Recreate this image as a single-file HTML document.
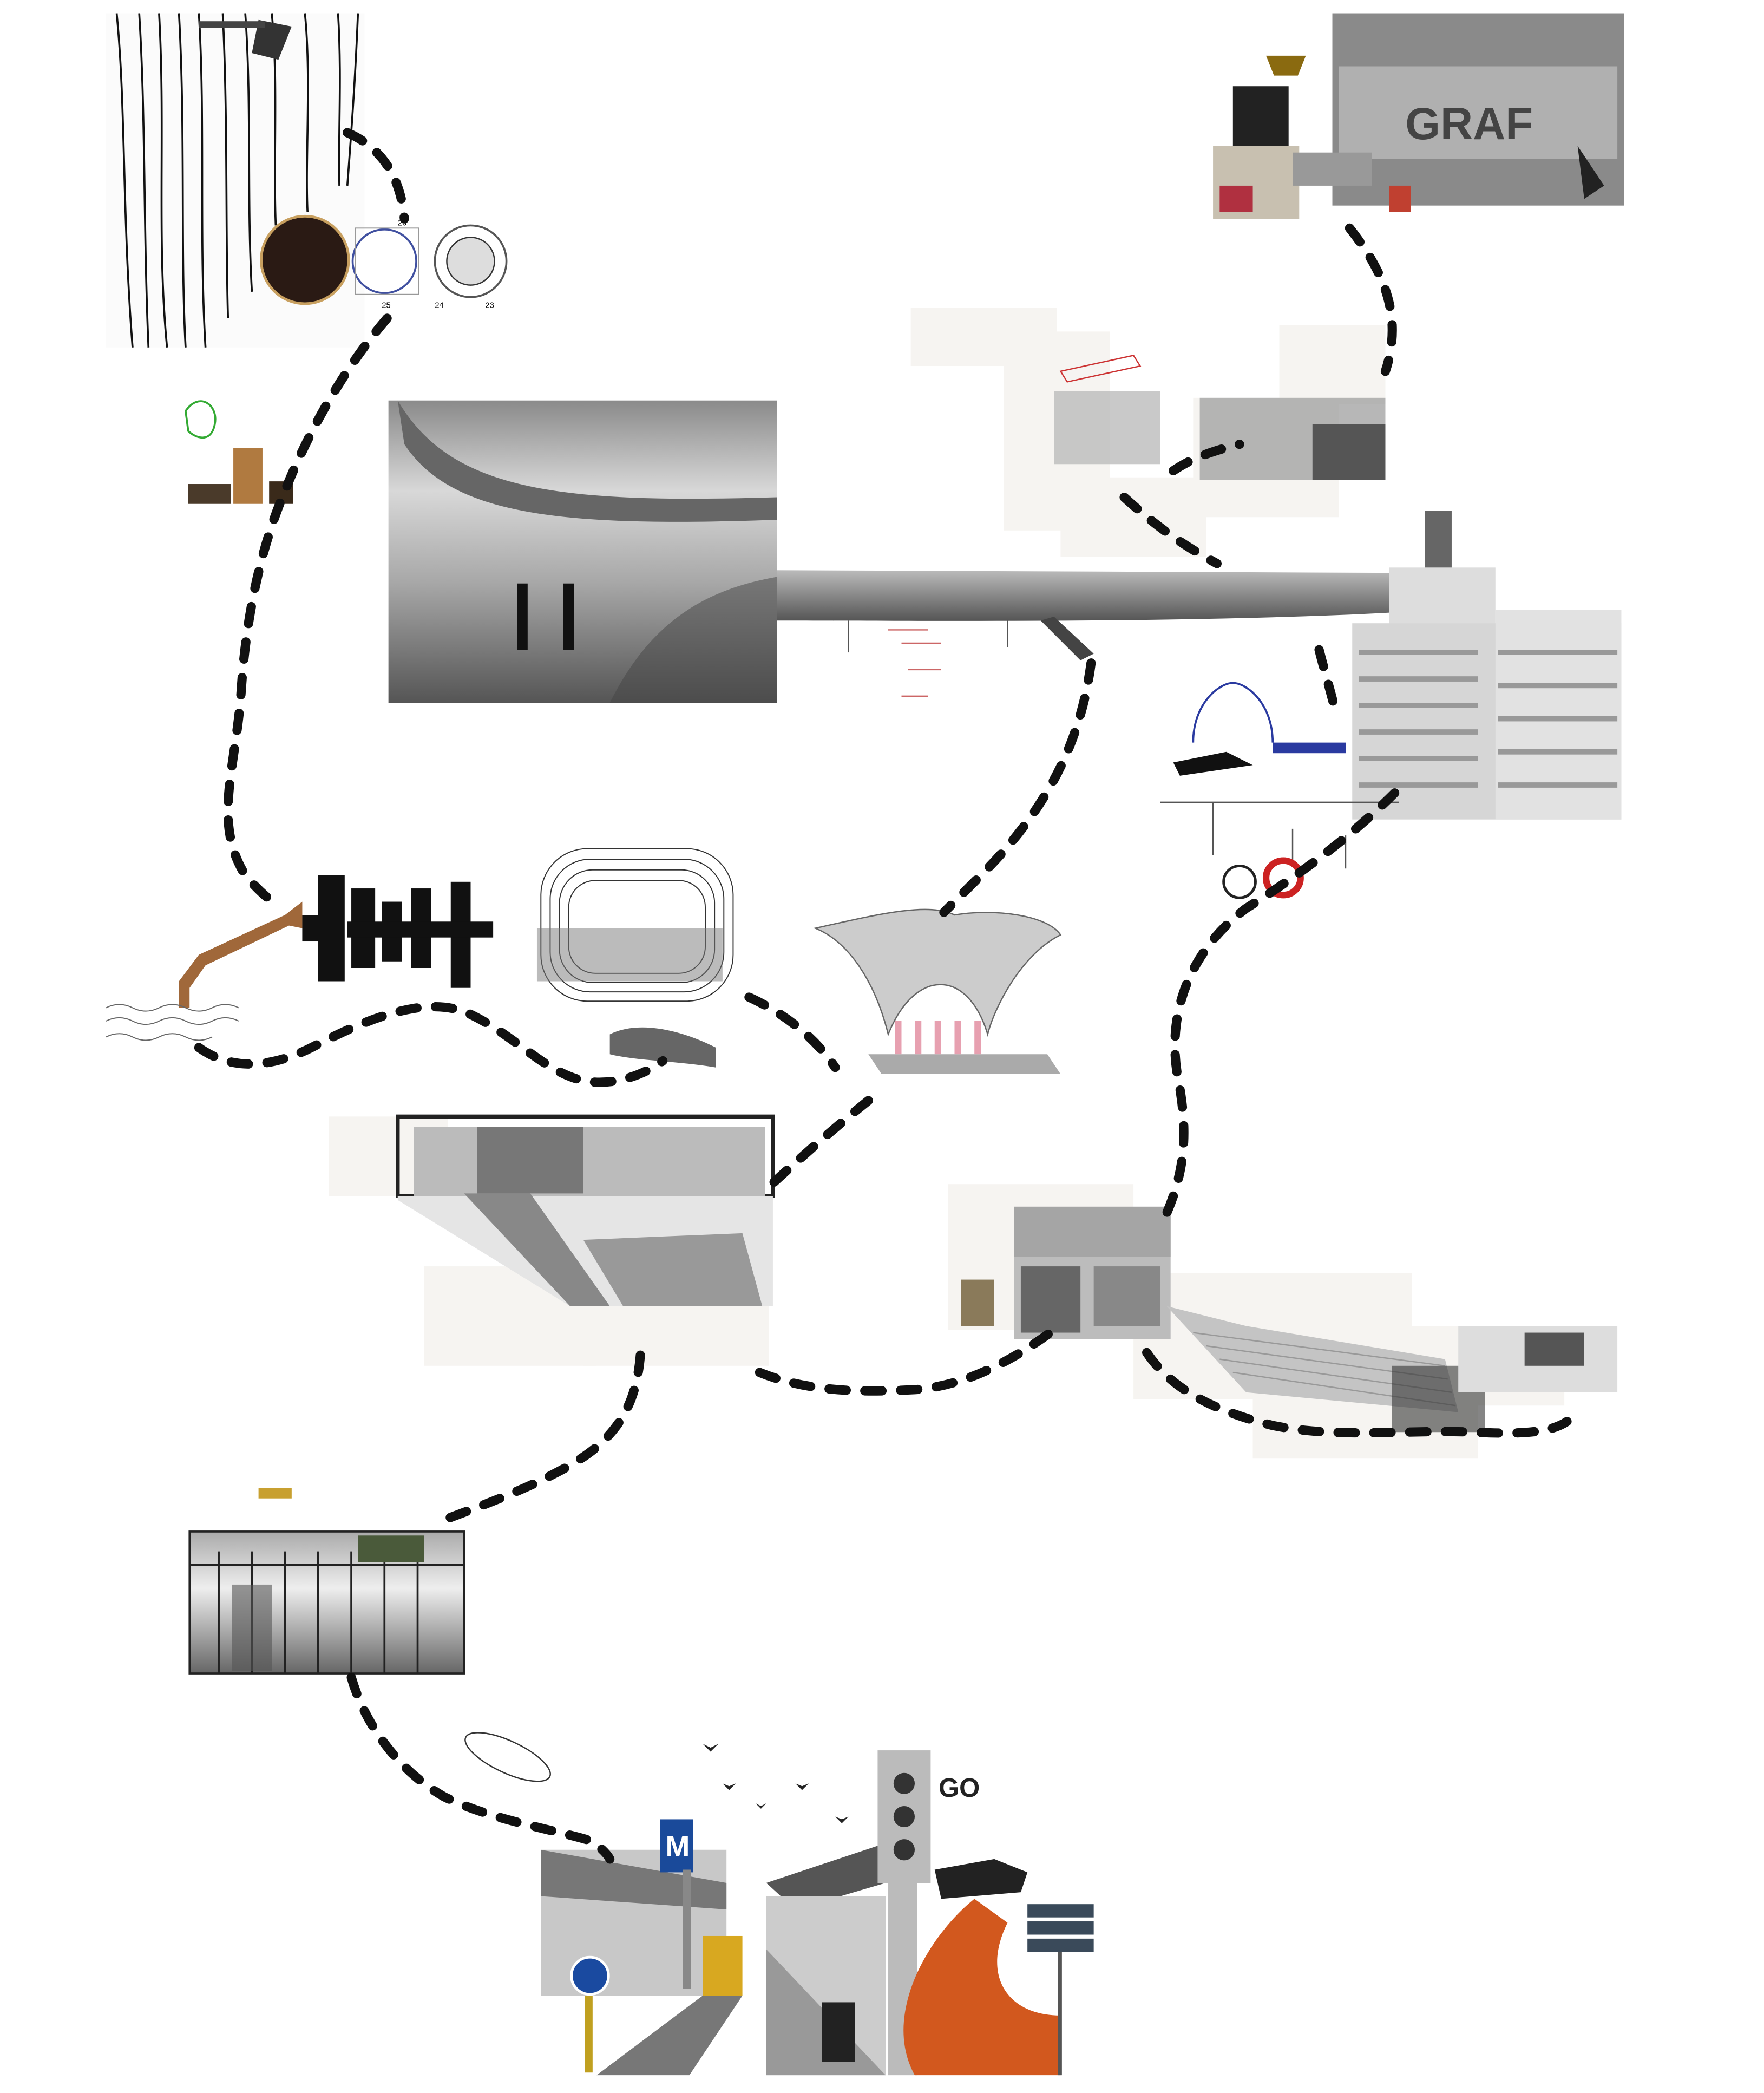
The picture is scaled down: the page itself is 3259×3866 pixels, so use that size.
<!DOCTYPE html>
<html><head><meta charset="utf-8"><style>
html,body{margin:0;padding:0;background:#fff;}
body{width:3259px;height:3866px;position:relative;overflow:hidden;font-family:"Liberation Sans",sans-serif;}
svg{position:absolute;left:0;top:0;}
</style></head><body>
<svg width="3259" height="3866" viewBox="0 0 1330.6 1578.4" xmlns="http://www.w3.org/2000/svg">
<defs>
<linearGradient id="pano" x1="0" y1="0" x2="0" y2="1"><stop offset="0" stop-color="#8a8a8a"/><stop offset="0.3" stop-color="#d8d8d8"/><stop offset="0.6" stop-color="#a8a8a8"/><stop offset="1" stop-color="#555"/></linearGradient>
<linearGradient id="tube" x1="0" y1="0" x2="0" y2="1"><stop offset="0" stop-color="#bbb"/><stop offset="0.5" stop-color="#888"/><stop offset="1" stop-color="#555"/></linearGradient>
<linearGradient id="gh" x1="0" y1="0" x2="0" y2="1"><stop offset="0" stop-color="#aaa"/><stop offset="0.4" stop-color="#eee"/><stop offset="1" stop-color="#666"/></linearGradient>
</defs>
<g fill="#f6f4f1">
<rect x="687" y="232" width="110" height="44"/><rect x="757" y="250" width="80" height="150"/><rect x="800" y="360" width="110" height="60"/><rect x="900" y="300" width="110" height="90"/><rect x="965" y="245" width="80" height="60"/>
<rect x="248" y="842" width="90" height="60"/><rect x="320" y="955" width="130" height="75"/><rect x="440" y="975" width="140" height="55"/>
<rect x="715" y="893" width="140" height="110"/><rect x="855" y="960" width="210" height="95"/><rect x="945" y="1040" width="170" height="60"/><rect x="1060" y="1000" width="120" height="60"/>
</g>
<rect x="80" y="10" width="195" height="252" fill="#fbfbfb"/>
<g stroke="#111" fill="none" stroke-width="1.5">
<path d="M88 10 C95 80 92 160 100 262"/><path d="M105 10 C110 90 108 170 112 262"/>
<path d="M120 10 C125 100 118 180 126 262"/><path d="M135 10 C140 100 136 190 140 262"/>
<path d="M150 10 C155 90 150 180 155 262"/><path d="M168 10 C172 90 170 180 172 240"/>
<path d="M185 10 C190 80 186 150 190 220"/><path d="M205 10 C210 60 206 120 208 170"/>
<path d="M230 10 C235 60 230 120 232 160"/><path d="M255 10 C258 60 255 100 256 140"/>
<path d="M270 10 C268 60 265 100 262 140"/>
</g>
<path d="M195 15 l25 5 l-10 25 l-20 -5z" fill="#333"/>
<rect x="150" y="16" width="50" height="5" fill="#444"/>
<circle cx="230" cy="196" r="33" fill="#2a1a14" stroke="#c8a060" stroke-width="2"/>
<circle cx="290" cy="197" r="24" fill="#fff" stroke="#4050a0" stroke-width="1.5"/>
<rect x="268" y="172" width="48" height="50" fill="none" stroke="#999" stroke-width="0.8"/>
<circle cx="355" cy="197" r="27" fill="#fff" stroke="#555" stroke-width="1.5"/>
<circle cx="355" cy="197" r="18" fill="#ddd" stroke="#333"/>
<text x="300" y="170" font-size="6" font-family="Liberation Sans">26</text>
<text x="288" y="232" font-size="6" font-family="Liberation Sans">25</text>
<text x="328" y="232" font-size="6" font-family="Liberation Sans">24</text>
<text x="366" y="232" font-size="6" font-family="Liberation Sans">23</text>
<path d="M140 310 c10 -15 25 -5 22 10 c-3 15 -15 10 -20 5z" fill="none" stroke="#3a3" stroke-width="1.5"/>
<rect x="142" y="365" width="32" height="15" fill="#4a3a2a"/><rect x="176" y="338" width="22" height="42" fill="#b07a40"/><rect x="203" y="363" width="18" height="17" fill="#3a2a1a"/>
<rect x="1005" y="10" width="220" height="145" fill="#8a8a8a"/>
<rect x="1010" y="50" width="210" height="70" fill="#b0b0b0"/>
<text x="1060" y="105" font-size="34" font-weight="bold" fill="#444" font-family="Liberation Sans">GRAF</text>
<rect x="930" y="65" width="42" height="100" fill="#222"/>
<rect x="915" y="110" width="65" height="55" fill="#c8c0b0"/>
<rect x="920" y="140" width="25" height="20" fill="#b03040"/>
<rect x="975" y="115" width="60" height="25" fill="#999"/>
<path d="M955 42 h30 l-6 15 h-18z" fill="#8a6a10"/>
<rect x="1048" y="140" width="16" height="20" fill="#c04030"/>
<path d="M1190 110 l20 30 l-15 10z" fill="#222"/>
<g stroke="#c33" fill="none" stroke-width="1"><path d="M800 280 l55 -12 l5 8 l-55 12z"/></g>
<rect x="795" y="295" width="80" height="55" fill="#bbb" opacity="0.8"/>
<rect x="905" y="300" width="140" height="62" fill="#999" opacity="0.7"/>
<rect x="990" y="320" width="55" height="42" fill="#555"/>
<rect x="293" y="302" width="293" height="228" fill="url(#pano)"/>
<path d="M300 302 C340 370 420 380 586 375 L586 392 C420 398 340 388 305 335Z" fill="#666"/>
<path d="M460 530 C490 470 530 445 586 435 L586 530Z" fill="#444" opacity="0.5"/>
<rect x="390" y="440" width="8" height="50" fill="#111"/><rect x="425" y="440" width="8" height="50" fill="#111"/>
<path d="M586 430 L1048 432 L1048 462 C900 470 700 468 586 468Z" fill="url(#tube)"/>
<line x1="640" y1="468" x2="640" y2="492" stroke="#555"/><line x1="760" y1="468" x2="760" y2="488" stroke="#555"/>
<path d="M785 468 l30 30 l10 -5 l-30 -28z" fill="#444"/>
<path d="M670 475 l30 0 m-20 10 l30 0 m-25 20 l25 0 m-30 20 l20 0" stroke="#c66" stroke-width="1" fill="none"/>
<rect x="1048" y="428" width="80" height="60" fill="#ddd"/>
<rect x="1075" y="385" width="20" height="43" fill="#666"/>
<rect x="1020" y="470" width="203" height="148" fill="#d6d6d6"/>
<rect x="1128" y="460" width="95" height="158" fill="#e2e2e2"/>
<g fill="#999">
<rect x="1025" y="490" width="90" height="4"/><rect x="1025" y="510" width="90" height="4"/><rect x="1025" y="530" width="90" height="4"/><rect x="1025" y="550" width="90" height="4"/><rect x="1025" y="570" width="90" height="4"/><rect x="1025" y="590" width="90" height="4"/>
<rect x="1130" y="490" width="90" height="4"/><rect x="1130" y="515" width="90" height="4"/><rect x="1130" y="540" width="90" height="4"/><rect x="1130" y="565" width="90" height="4"/><rect x="1130" y="590" width="90" height="4"/>
</g>
<path d="M900 560 c0 -30 20 -45 30 -45 c10 0 30 15 30 45" fill="none" stroke="#2a3aa0" stroke-width="1.5"/>
<path d="M885 575 l40 -8 l20 10 l-55 8z" fill="#111"/>
<rect x="960" y="560" width="55" height="8" fill="#2a3aa0"/>
<path d="M875 605 h180 m-140 0 v40 m60 -20 v25 m40 -20 v25" stroke="#555" fill="none"/>
<circle cx="968" cy="662" r="13" fill="none" stroke="#c22" stroke-width="5"/>
<circle cx="935" cy="665" r="12" fill="none" stroke="#222" stroke-width="2"/>
<path d="M135 760 L135 740 L150 720 L215 690 L228 680 L228 700 L218 698 L155 728 L143 745 L143 760Z" fill="#a0683a"/>
<g stroke="#666" fill="none" stroke-width="0.8"><path d="M80 760 q10 -5 20 0 t20 0 t20 0 t20 0 t20 0"/><path d="M80 770 q10 -5 20 0 t20 0 t20 0 t20 0 t20 0"/><path d="M80 782 q10 -5 20 0 t20 0 t20 0 t20 0"/></g>
<g fill="#111">
<rect x="228" y="690" width="30" height="20"/><rect x="240" y="660" width="20" height="80"/><rect x="265" y="670" width="18" height="60"/><rect x="288" y="680" width="15" height="45"/><rect x="310" y="670" width="15" height="60"/><rect x="340" y="665" width="15" height="80"/><rect x="262" y="695" width="110" height="12"/>
</g>
<g fill="none" stroke="#333" stroke-width="0.8">
<rect x="408" y="640" width="145" height="115" rx="35"/><rect x="415" y="648" width="131" height="100" rx="30"/><rect x="422" y="656" width="117" height="85" rx="25"/><rect x="429" y="664" width="103" height="70" rx="20"/>
</g>
<rect x="405" y="700" width="140" height="40" fill="#777" opacity="0.5"/>
<path d="M460 780 c20 -10 50 -5 80 10 l0 15 c-30 -5 -60 -5 -80 -10z" fill="#666"/>
<path d="M615 700 C660 690 700 680 720 690 C750 685 790 690 800 705 C770 720 750 760 745 780 C730 730 690 730 670 780 C660 740 640 710 615 700Z" fill="#ccc" stroke="#666" stroke-width="1"/>
<path d="M655 795 L790 795 L800 810 L665 810Z" fill="#aaa"/>
<g fill="#e7a0b0"><rect x="675" y="770" width="5" height="25"/><rect x="690" y="770" width="5" height="25"/><rect x="705" y="770" width="5" height="25"/><rect x="720" y="770" width="5" height="25"/><rect x="735" y="770" width="5" height="25"/></g>
<rect x="300" y="842" width="283" height="60" fill="none" stroke="#222" stroke-width="3"/>
<rect x="312" y="850" width="265" height="60" fill="#bbb"/>
<path d="M300 902 L583 902 L583 985 L430 985 L300 905Z" fill="#e5e5e5"/>
<path d="M350 900 L430 985 L460 985 L400 900Z" fill="#888"/>
<path d="M440 935 L560 930 L575 985 L470 985Z" fill="#999"/>
<rect x="360" y="850" width="80" height="50" fill="#777"/>
<rect x="765" y="910" width="118" height="100" fill="#bcbcbc"/>
<rect x="765" y="910" width="118" height="38" fill="#a5a5a5"/>
<rect x="770" y="955" width="45" height="50" fill="#666"/>
<rect x="825" y="955" width="50" height="45" fill="#888"/>
<rect x="725" y="965" width="25" height="35" fill="#8a7a5a"/>
<path d="M880 985 L940 1000 L1090 1025 L1100 1065 L940 1050Z" fill="#c4c4c4"/>
<g stroke="#999" stroke-width="1"><line x1="900" y1="1005" x2="1090" y2="1030"/><line x1="910" y1="1015" x2="1092" y2="1040"/><line x1="920" y1="1025" x2="1095" y2="1050"/><line x1="930" y1="1035" x2="1098" y2="1060"/></g>
<rect x="1050" y="1030" width="70" height="50" fill="#333" opacity="0.6"/>
<rect x="1100" y="1000" width="120" height="50" fill="#ddd"/>
<rect x="1150" y="1005" width="45" height="25" fill="#555"/>
<rect x="143" y="1155" width="207" height="107" fill="url(#gh)" stroke="#222" stroke-width="1.5"/>
<g stroke="#222" stroke-width="1.5"><line x1="165" y1="1170" x2="165" y2="1262"/><line x1="190" y1="1170" x2="190" y2="1262"/><line x1="215" y1="1170" x2="215" y2="1262"/><line x1="240" y1="1170" x2="240" y2="1262"/><line x1="265" y1="1170" x2="265" y2="1262"/><line x1="290" y1="1170" x2="290" y2="1262"/><line x1="315" y1="1170" x2="315" y2="1262"/><line x1="143" y1="1180" x2="350" y2="1180"/></g>
<rect x="175" y="1195" width="30" height="65" fill="#555" opacity="0.6"/>
<rect x="270" y="1158" width="50" height="20" fill="#4a5a3a"/>
<rect x="195" y="1122" width="25" height="8" fill="#c8a030"/>
<ellipse cx="383" cy="1325" rx="35" ry="12" fill="none" stroke="#333" stroke-width="1" transform="rotate(25 383 1325)"/>
<rect x="408" y="1395" width="140" height="110" fill="#c8c8c8"/>
<path d="M408 1395 L548 1420 L548 1440 L408 1430Z" fill="#777"/>
<rect x="498" y="1372" width="25" height="40" fill="#1a4a9a"/>
<text x="502" y="1400" font-size="22" font-weight="bold" fill="#fff" font-family="Liberation Sans">M</text>
<rect x="515" y="1410" width="6" height="90" fill="#888"/>
<circle cx="445" cy="1490" r="14" fill="#1a4aa0" stroke="#fff" stroke-width="2"/>
<rect x="441" y="1505" width="6" height="58" fill="#c0a020"/>
<rect x="530" y="1460" width="30" height="45" fill="#d8a820"/>
<path d="M450 1565 L530 1505 L560 1505 L520 1565Z" fill="#777"/>
<path d="M578 1420 L668 1390 L668 1420 L600 1440Z" fill="#555"/>
<rect x="578" y="1430" width="90" height="135" fill="#ccc"/>
<path d="M578 1470 L668 1565 L578 1565Z" fill="#999"/>
<rect x="662" y="1320" width="40" height="100" fill="#bbb"/>
<circle cx="682" cy="1345" r="8" fill="#333"/><circle cx="682" cy="1370" r="8" fill="#333"/><circle cx="682" cy="1395" r="8" fill="#333"/>
<rect x="670" y="1420" width="22" height="145" fill="#bbb"/>
<text x="708" y="1355" font-size="20" font-weight="bold" fill="#222" font-family="Liberation Sans">GO</text>
<path d="M735 1432 C700 1460 665 1520 690 1565 L800 1565 L800 1520 C760 1520 740 1490 760 1450Z" fill="#d2581e"/>
<path d="M705 1410 l45 -8 l25 10 l-5 15 l-60 5z" fill="#222"/>
<rect x="775" y="1436" width="50" height="10" fill="#3a4a5a"/><rect x="775" y="1449" width="50" height="10" fill="#3a4a5a"/><rect x="775" y="1462" width="50" height="10" fill="#3a4a5a"/>
<rect x="798" y="1472" width="3" height="93" fill="#555"/>
<rect x="620" y="1510" width="25" height="45" fill="#222"/>
<g fill="none" stroke="#111" stroke-width="7" stroke-dasharray="13 14" stroke-linecap="round">
<path d="M262 100 C285 110 302 130 305 165"/>
<path d="M292 240 C262 275 235 320 215 370 C198 410 186 460 182 520 C178 580 160 620 185 660 C195 672 205 680 212 685"/>
<path d="M150 790 C175 808 205 805 235 790 C270 772 320 748 355 765 C390 782 410 808 440 815 C465 820 490 808 500 800"/>
<path d="M565 752 C600 768 620 790 630 805"/>
<path d="M655 830 C630 850 605 872 580 895"/>
<path d="M823 500 C815 560 790 610 740 660 C730 670 720 680 712 688"/>
<path d="M1018 172 C1040 200 1060 235 1045 280"/>
<path d="M848 375 C870 395 890 410 918 425"/>
<path d="M885 355 C900 345 915 340 935 335"/>
<path d="M995 490 C1000 510 1005 525 1008 540"/>
<path d="M1052 598 C1020 630 980 660 940 685 C900 715 880 760 888 810 C896 850 895 880 880 915"/>
<path d="M573 1035 C610 1050 650 1050 690 1048 C730 1045 765 1025 795 1003"/>
<path d="M865 1020 C885 1050 920 1065 960 1075 C1010 1085 1060 1078 1110 1080 C1150 1082 1170 1080 1182 1072"/>
<path d="M483 1022 C480 1060 465 1085 430 1105 C400 1122 365 1135 330 1148"/>
<path d="M265 1265 C275 1300 300 1335 335 1355 C370 1372 410 1378 445 1388 C452 1392 458 1398 460 1402"/>
</g>
<g fill="#222"><path d="M530 1315 l6 3 l6 -3 l-6 6z"/><path d="M545 1345 l5 2 l5 -2 l-5 5z"/><path d="M600 1345 l5 2 l5 -2 l-5 5z"/><path d="M630 1370 l5 2 l5 -2 l-5 5z"/><path d="M570 1360 l4 2 l4 -2 l-4 4z"/></g>
</svg>
</body></html>
